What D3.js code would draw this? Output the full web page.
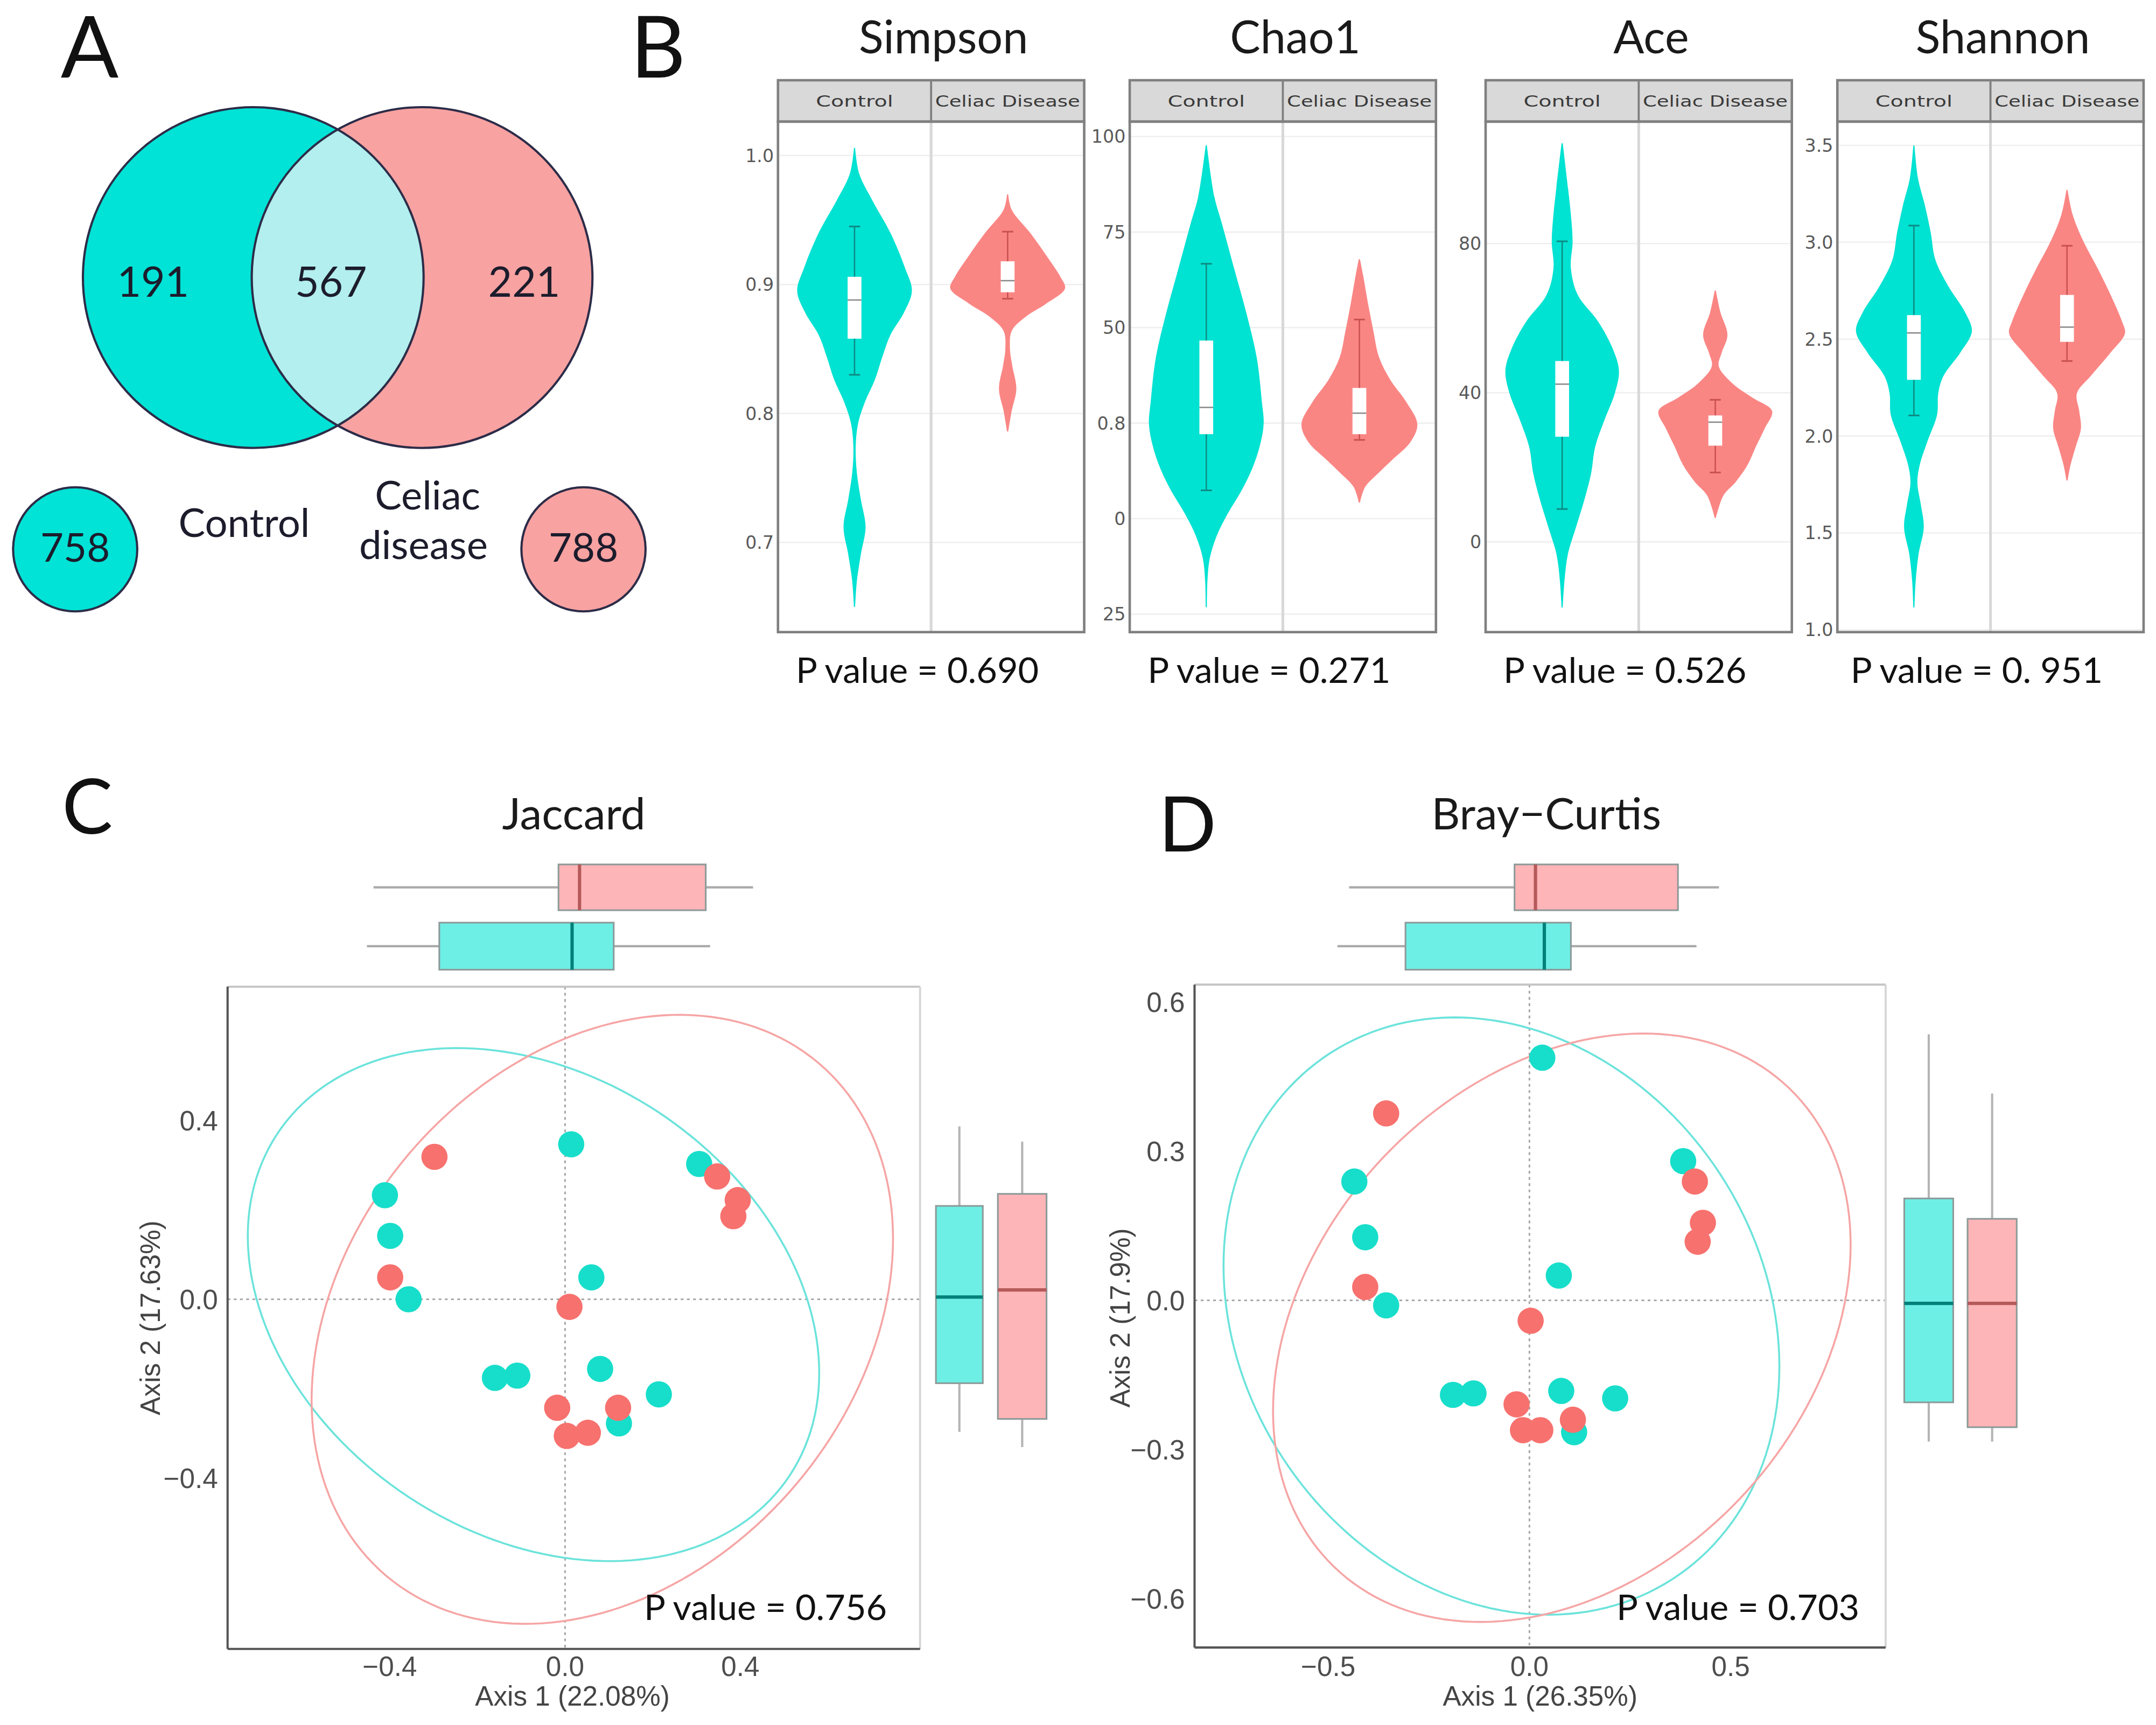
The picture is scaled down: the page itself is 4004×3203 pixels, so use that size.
<!DOCTYPE html>
<html>
<head>
<meta charset="utf-8">
<script src="https://cdn.jsdelivr.net/npm/d3@7"></script>
<style>
  body { margin: 0; background: #fff; }
  svg { display: block; }
</style>
</head>
<body>
<svg id="fig"></svg>
<script>
/* Figure: Venn (A), alpha diversity violins (B), PCoA Jaccard (C) and Bray-Curtis (D) */

// ---- A: Venn counts
const vennRegions = [191, 567, 221];          // control only, shared, celiac only
const vennTotals = [758, 788];
const groups = ['Control', 'Celiac Disease'];

// ---- B: alpha diversity
const alphaIndices = ['Simpson', 'Chao1', 'Ace', 'Shannon'];
const alphaPvalues = ['0.690', '0.271', '0.526', '0. 951'];
const alphaRanges = [[0.6305, 1.0263], [-29.7, 103.9], [-24.2, 112.7], [0.988, 3.6225]];
const alphaTicks = [[0.7, 0.8, 0.9, 1.0], [-25, 0, 25, 50, 75, 100], [0, 40, 80], [1.0, 1.5, 2.0, 2.5, 3.0, 3.5]];
const alphaTickLabels = [['0.7', '0.8', '0.9', '1.0'], ['25', '0', '0.8', '50', '75', '100'], ['0', '40', '80'], ['1.0', '1.5', '2.0', '2.5', '3.0', '3.5']];

// violin outlines: [value, relative density]
const simpsonControl = [[1.006,0.01],[0.986,0.08],[0.965,0.31],[0.940,0.62],[0.913,0.87],[0.895,0.99],[0.878,0.85],[0.861,0.62],[0.844,0.48],[0.826,0.35],[0.809,0.18],[0.792,0.06],[0.774,0.02],[0.754,0.04],[0.733,0.11],[0.712,0.19],[0.691,0.11],[0.670,0.04],[0.650,0.01]];
const simpsonCeliac = [[0.970,0.01],[0.958,0.07],[0.940,0.39],[0.923,0.66],[0.906,0.91],[0.897,0.99],[0.885,0.66],[0.875,0.31],[0.864,0.07],[0.850,0.04],[0.837,0.08],[0.819,0.15],[0.802,0.07],[0.786,0.01]];
const chao1Control = [[97.7,0.01],[84.2,0.14],[77.2,0.27],[65.5,0.48],[53.9,0.69],[42.2,0.87],[30.5,0.96],[24.7,0.99],[18.8,0.92],[13.0,0.79],[7.1,0.60],[1.3,0.37],[-4.5,0.18],[-10.4,0.06],[-16.2,0.02],[-23.2,0.01]];
const chao1Celiac = [[67.9,0.01],[63.2,0.07],[56.2,0.15],[49.2,0.24],[42.2,0.34],[36.4,0.53],[30.5,0.81],[24.7,1.0],[20.0,0.88],[15.3,0.56],[11.8,0.32],[8.3,0.10],[4.2,0.01]];
const aceControl = [[106.9,0.01],[95.0,0.10],[87.8,0.15],[80.6,0.18],[73.4,0.15],[66.2,0.27],[59.1,0.62],[51.9,0.87],[45.9,0.98],[39.9,0.91],[32.7,0.73],[25.5,0.57],[18.4,0.50],[11.1,0.38],[4.0,0.24],[-3.2,0.10],[-10.4,0.04],[-17.6,0.01]];
const aceCeliac = [[67.4,0.01],[61.5,0.09],[55.5,0.21],[50.7,0.11],[47.1,0.06],[42.3,0.31],[38.7,0.64],[35.1,0.98],[30.3,0.85],[25.5,0.70],[20.7,0.56],[16.0,0.35],[12.4,0.14],[6.4,0.01]];
const shannonControl = [[3.50,0.01],[3.33,0.07],[3.19,0.19],[3.05,0.29],[2.91,0.37],[2.77,0.60],[2.64,0.88],[2.54,1.0],[2.43,0.80],[2.31,0.51],[2.22,0.42],[2.11,0.40],[1.97,0.23],[1.85,0.10],[1.76,0.06],[1.645,0.12],[1.53,0.17],[1.39,0.08],[1.25,0.03],[1.115,0.01]];
const shannonCeliac = [[3.27,0.01],[3.14,0.10],[3.00,0.29],[2.87,0.52],[2.73,0.75],[2.59,0.95],[2.53,1.0],[2.43,0.75],[2.31,0.41],[2.22,0.17],[2.13,0.21],[2.04,0.24],[1.945,0.15],[1.85,0.06],[1.77,0.01]];
const violins = [[simpsonControl, simpsonCeliac], [chao1Control, chao1Celiac], [aceControl, aceCeliac], [shannonControl, shannonCeliac]];

// inner boxes: [lower whisker, q1, median, q3, upper whisker]
const alphaBoxes = [
  [[0.830, 0.858, 0.888, 0.906, 0.945], [0.889, 0.894, 0.903, 0.918, 0.941]],
  [[7.4, 22.1, 29.1, 46.6, 66.7], [20.6, 22.1, 27.6, 34.2, 52.1]],
  [[8.8, 28.2, 42.3, 48.5, 80.6], [18.6, 25.8, 32.1, 33.9, 38.1]],
  [[2.106, 2.29, 2.532, 2.624, 3.086], [2.387, 2.486, 2.562, 2.728, 2.982]]
];

// ---- C / D: PCoA
const jaccardControl = [[0.014,0.347],[0.306,0.303],[-0.411,0.233],[-0.399,0.142],[-0.357,0.0],[0.060,0.049],[-0.160,-0.176],[-0.109,-0.171],[0.080,-0.156],[0.214,-0.213],[0.123,-0.278]];
const jaccardCeliac = [[-0.298,0.319],[0.347,0.275],[0.394,0.222],[0.384,0.186],[-0.399,0.049],[0.010,-0.017],[-0.018,-0.243],[0.121,-0.243],[0.004,-0.306],[0.052,-0.299]];
const brayControl = [[0.032,0.488],[0.382,0.280],[-0.435,0.239],[-0.408,0.127],[-0.356,-0.010],[0.073,0.050],[-0.190,-0.190],[-0.139,-0.187],[0.079,-0.182],[0.213,-0.197],[0.111,-0.265]];
const brayCeliac = [[-0.356,0.376],[0.411,0.239],[0.431,0.156],[0.418,0.118],[-0.408,0.027],[0.003,-0.041],[-0.032,-0.209],[0.108,-0.240],[-0.016,-0.261],[0.027,-0.261]];

// ellipses: [cx, cy, var x, var y, cov xy]
const jaccardEllipses = [[-0.072, -0.012, 0.425, 0.330, -0.10], [0.085, -0.045, 0.44, 0.465, 0.12]];
const brayEllipses = [[-0.0695, -0.0315, 0.4768, 0.3606, -0.07], [0.0805, -0.055, 0.5148, 0.35, 0.12]];

// marginal boxes: [lower whisker, q1, median, q3, upper whisker] per group
const jaccardAxis1Box = [[-0.452, -0.287, 0.016, 0.111, 0.331], [-0.437, -0.015, 0.033, 0.321, 0.429]];
const jaccardAxis2Box = [[-0.297, -0.188, 0.005, 0.209, 0.387], [-0.331, -0.268, 0.021, 0.236, 0.353]];
const brayAxis1Box = [[-0.477, -0.308, 0.037, 0.103, 0.415], [-0.448, -0.037, 0.015, 0.369, 0.471]];
const brayAxis2Box = [[-0.284, -0.205, -0.006, 0.205, 0.535], [-0.284, -0.255, -0.006, 0.164, 0.416]];

const jaccardXRange = [-0.77, 0.81], jaccardYRange = [-0.783, 0.70];
const brayXRange = [-0.832, 0.885], brayYRange = [-0.698, 0.635];
const jaccardTicks = [[-0.4, 0, 0.4], [-0.4, 0, 0.4]];
const brayTicks = [[-0.5, 0, 0.5], [-0.6, -0.3, 0, 0.3, 0.6]];

// ---- colours
const vennFill = ['#00E3D6', '#F8A2A1', '#B2EFEE'];
const violinFill = ['#00E2D2', '#FA8684'];
const whiskerCol = ['#0d8c84', '#c95250'];
const pointCol = ['#17DECA', '#F7716E'];
const ellipseCol = ['#6BE3DB', '#F6A5A5'];
const boxFill = ['#6DEFE5', '#FDB5B7'];
const medianCol = ['#00807a', '#b55a5a'];

const W = 1563, H = 1250;
const svg = d3.select('#fig').attr('width', 4004).attr('height', 3203).attr('viewBox', `0 0 ${W} ${H}`);
svg.append('rect').attr('width', W).attr('height', H).attr('fill', '#fff');

const LATO = 'Lato, "Open Sans", sans-serif';
const ARIAL = '"Liberation Sans", Arial, sans-serif';
const DEJA = '"DejaVu Sans", sans-serif';

function letter(t, x, y, size) {
    svg.append('text').attr('x', x).attr('y', y).text(t)
        .style('font-family', LATO).style('font-size', size + 'px').attr('fill', '#111');
}

// ================= A =================
function drawVenn() {
    const g = svg.append('g');
    const r = 123.5, c1 = [183.6, 201], c2 = [306, 201];
    const defs = svg.append('defs');
    defs.append('clipPath').attr('id', 'clipRight').append('circle').attr('cx', c2[0]).attr('cy', c2[1]).attr('r', r);
    g.append('circle').attr('cx', c1[0]).attr('cy', c1[1]).attr('r', r).attr('fill', vennFill[0]);
    g.append('circle').attr('cx', c2[0]).attr('cy', c2[1]).attr('r', r).attr('fill', vennFill[1]);
    g.append('circle').attr('cx', c1[0]).attr('cy', c1[1]).attr('r', r).attr('fill', vennFill[2]).attr('clip-path', 'url(#clipRight)');
    [c1, c2].forEach(c => g.append('circle').attr('cx', c[0]).attr('cy', c[1]).attr('r', r)
        .attr('fill', 'none').attr('stroke', '#2c2c48').attr('stroke-width', 1.6));

    const numX = [111, 240, 380];
    vennRegions.forEach((v, i) => g.append('text').attr('x', numX[i]).attr('y', 215).attr('text-anchor', 'middle')
        .text(v).style('font-family', LATO).style('font-size', '30px').attr('fill', '#1c1c2c'));

    const small = [[54.5, 398], [423, 398]];
    vennTotals.forEach((v, i) => {
        g.append('circle').attr('cx', small[i][0]).attr('cy', small[i][1]).attr('r', 45)
            .attr('fill', vennFill[i]).attr('stroke', '#2c2c48').attr('stroke-width', 1.6);
        g.append('text').attr('x', small[i][0]).attr('y', 407).attr('text-anchor', 'middle').text(v)
            .style('font-family', LATO).style('font-size', '29px').attr('fill', '#1c1c2c');
    });
    const lab = (t, x, y) => g.append('text').attr('x', x).attr('y', y).attr('text-anchor', 'middle').text(t)
        .style('font-family', LATO).style('font-size', '29px').attr('fill', '#1c1c2c');
    lab('Control', 177, 389);
    lab('Celiac', 310, 369);
    lab('disease', 307, 405);
}

// ================= B =================
const bLeft = [564, 819, 1077, 1332], bWidth = 222;
const stripTop = 58, bTop = 88, bBottom = 458;

function drawViolinPanel(i) {
    const left = bLeft[i], half = bWidth / 2;
    const y = d3.scaleLinear().domain(alphaRanges[i]).range([bBottom, bTop]);
    const w = d3.scaleLinear().domain([0, 1]).range([0, 42]);
    const g = svg.append('g');

    g.append('text').attr('x', left + 120).attr('y', 38.5).attr('text-anchor', 'middle').text(alphaIndices[i])
        .style('font-family', LATO).style('font-size', '33px').attr('fill', '#1a1a1a');

    // strip
    g.append('rect').attr('x', left).attr('y', stripTop).attr('width', bWidth).attr('height', bTop - stripTop)
        .attr('fill', '#d9d9d9');
    groups.forEach((grp, j) => {
        g.append('text').attr('x', left + half * (j + 0.5)).attr('y', 77).attr('text-anchor', 'middle')
            .text(grp).style('font-family', DEJA).style('font-size', '11px').attr('fill', '#3a3a3a')
            .attr('lengthAdjust', 'spacingAndGlyphs').attr('textLength', j === 0 ? 56 : half - 6);
    });

    // grid + ticks
    alphaTicks[i].forEach((v, k) => {
        g.append('line').attr('x1', left).attr('x2', left + bWidth).attr('y1', y(v)).attr('y2', y(v))
            .attr('stroke', '#efefef').attr('stroke-width', 1);
        g.append('text').attr('x', left - 3).attr('y', y(v)).attr('dy', '0.36em').attr('text-anchor', 'end')
            .text(alphaTickLabels[i][k]).style('font-family', DEJA).style('font-size', '13px').attr('fill', '#5a5a5a');
    });
    g.append('line').attr('x1', left + half).attr('x2', left + half).attr('y1', bTop).attr('y2', bBottom)
        .attr('stroke', '#d8d8d8').attr('stroke-width', 2);

    groups.forEach((grp, j) => {
        const cx = left + half * (j + 0.5);
        const area = d3.area().curve(d3.curveCatmullRom.alpha(0.5))
            .y(d => y(d[0])).x0(d => cx - w(d[1])).x1(d => cx + w(d[1]));
        g.append('path').datum(violins[i][j]).attr('d', area).attr('fill', violinFill[j]);

        const [lo, q1, med, q3, hi] = alphaBoxes[i][j];
        g.append('line').attr('x1', cx).attr('x2', cx).attr('y1', y(hi)).attr('y2', y(lo))
            .attr('stroke', whiskerCol[j]).attr('stroke-width', 1);
        [lo, hi].forEach(v => g.append('line').attr('x1', cx - 4).attr('x2', cx + 4).attr('y1', y(v)).attr('y2', y(v))
            .attr('stroke', whiskerCol[j]).attr('stroke-width', 1.2));
        g.append('rect').attr('x', cx - 5).attr('width', 10).attr('y', y(q3)).attr('height', y(q1) - y(q3))
            .attr('fill', '#fff');
        g.append('line').attr('x1', cx - 5).attr('x2', cx + 5).attr('y1', y(med)).attr('y2', y(med))
            .attr('stroke', '#8a8a8a').attr('stroke-width', 1);
    });

    // frames on top
    g.append('rect').attr('x', left).attr('y', stripTop).attr('width', bWidth).attr('height', bTop - stripTop)
        .attr('fill', 'none').attr('stroke', '#808080').attr('stroke-width', 1.8);
    g.append('line').attr('x1', left + half).attr('x2', left + half).attr('y1', stripTop).attr('y2', bTop)
        .attr('stroke', '#808080').attr('stroke-width', 1.5);
    g.append('rect').attr('x', left).attr('y', bTop).attr('width', bWidth).attr('height', bBottom - bTop)
        .attr('fill', 'none').attr('stroke', '#808080').attr('stroke-width', 1.8);

    g.append('text').attr('x', left + 101).attr('y', 495).attr('text-anchor', 'middle')
        .text('P value = ' + alphaPvalues[i]).style('font-family', LATO).style('font-size', '26px').attr('fill', '#111');
}

// ================= C / D =================
function drawPCoA(o) {
    const g = svg.append('g');
    const x = d3.scaleLinear().domain(o.xRange).range([o.x0, o.x1]);
    const y = d3.scaleLinear().domain(o.yRange).range([o.y1, o.y0]);
    const fmt = d3.format('.1f');

    letter(o.letter, o.letterX, o.letterY, 55);
    g.append('text').attr('x', o.titleX).attr('y', 601).attr('text-anchor', 'middle').text(o.title)
        .style('font-family', LATO).style('font-size', '32px').attr('fill', '#1a1a1a');

    // dotted zero lines
    g.append('line').attr('x1', x(0)).attr('x2', x(0)).attr('y1', o.y0).attr('y2', o.y1)
        .attr('stroke', '#a8a8a8').attr('stroke-width', 1.2).attr('stroke-dasharray', '2,2.5');
    g.append('line').attr('x1', o.x0).attr('x2', o.x1).attr('y1', y(0)).attr('y2', y(0))
        .attr('stroke', '#a8a8a8').attr('stroke-width', 1.2).attr('stroke-dasharray', '2,2.5');

    // ellipses
    const ts = d3.range(0, 2 * Math.PI + 0.001, Math.PI / 90);
    o.ellipses.forEach((e, j) => {
        const [cx, cy, sxx, syy, sxy] = e;
        const l11 = Math.sqrt(sxx), l21 = sxy / l11, l22 = Math.sqrt(syy - l21 * l21);
        const pts = ts.map(t => [cx + l11 * Math.cos(t), cy + l21 * Math.cos(t) + l22 * Math.sin(t)]);
        g.append('path').datum(pts).attr('d', d3.line().x(d => x(d[0])).y(d => y(d[1])))
            .attr('fill', 'none').attr('stroke', ellipseCol[j]).attr('stroke-width', 1.4);
    });

    // points
    o.points.forEach((pts, j) => {
        g.selectAll(null).data(pts).enter().append('circle')
            .attr('cx', d => x(d[0])).attr('cy', d => y(d[1])).attr('r', 9.5).attr('fill', pointCol[j]);
    });

    // frame
    g.append('line').attr('x1', o.x0).attr('x2', o.x1).attr('y1', o.y0).attr('y2', o.y0).attr('stroke', '#c4c4c4').attr('stroke-width', 1.5);
    g.append('line').attr('x1', o.x1).attr('x2', o.x1).attr('y1', o.y0).attr('y2', o.y1).attr('stroke', '#d6d6d6').attr('stroke-width', 1.5);
    g.append('line').attr('x1', o.x0).attr('x2', o.x0).attr('y1', o.y0).attr('y2', o.y1).attr('stroke', '#555').attr('stroke-width', 1.6);
    g.append('line').attr('x1', o.x0).attr('x2', o.x1).attr('y1', o.y1).attr('y2', o.y1).attr('stroke', '#555').attr('stroke-width', 1.6);

    // ticks
    o.ticks[0].forEach(v => g.append('text').attr('x', x(v)).attr('y', 1214.5).attr('text-anchor', 'middle')
        .text(fmt(v)).style('font-family', ARIAL).style('font-size', '20px').attr('fill', '#4d4d4d'));
    o.ticks[1].forEach(v => g.append('text').attr('x', o.x0 - 7).attr('y', y(v)).attr('dy', '0.36em').attr('text-anchor', 'end')
        .text(fmt(v)).style('font-family', ARIAL).style('font-size', '20px').attr('fill', '#4d4d4d'));

    g.append('text').attr('x', o.xTitleX).attr('y', 1236).attr('text-anchor', 'middle').text(o.xTitle)
        .style('font-family', ARIAL).style('font-size', '20px').attr('fill', '#444');
    g.append('text').attr('transform', `translate(${o.yTitleX},955) rotate(-90)`).attr('text-anchor', 'middle').text(o.yTitle)
        .style('font-family', ARIAL).style('font-size', '20px').attr('fill', '#444');

    g.append('text').attr('x', o.pX).attr('y', 1174).attr('text-anchor', 'end').text(o.pText)
        .style('font-family', LATO).style('font-size', '26px').attr('fill', '#111');

    // top marginal boxes (axis 1)
    const topBands = [[668.6, 702.7], [626.4, 659.6]];
    o.box1.forEach((b, j) => {
        const [lo, q1, med, q3, hi] = b, [b0, b1] = topBands[j], m = (b0 + b1) / 2;
        g.append('line').attr('x1', x(lo)).attr('x2', x(hi)).attr('y1', m).attr('y2', m).attr('stroke', '#aaa').attr('stroke-width', 1.6);
        g.append('rect').attr('x', x(q1)).attr('width', x(q3) - x(q1)).attr('y', b0).attr('height', b1 - b0)
            .attr('fill', boxFill[j]).attr('stroke', '#8c9a99').attr('stroke-width', 1.2);
        g.append('line').attr('x1', x(med)).attr('x2', x(med)).attr('y1', b0).attr('y2', b1).attr('stroke', medianCol[j]).attr('stroke-width', 2.4);
    });
    // right marginal boxes (axis 2)
    o.box2.forEach((b, j) => {
        const [lo, q1, med, q3, hi] = b, [a0, a1] = o.rightBands[j], m = (a0 + a1) / 2;
        g.append('line').attr('x1', m).attr('x2', m).attr('y1', y(lo)).attr('y2', y(hi)).attr('stroke', '#b4b4b4').attr('stroke-width', 1.6);
        g.append('rect').attr('x', a0).attr('width', a1 - a0).attr('y', y(q3)).attr('height', y(q1) - y(q3))
            .attr('fill', boxFill[j]).attr('stroke', '#8c9a99').attr('stroke-width', 1.2);
        g.append('line').attr('x1', a0).attr('x2', a1).attr('y1', y(med)).attr('y2', y(med)).attr('stroke', medianCol[j]).attr('stroke-width', 2.4);
    });
}

drawVenn();
letter('A', 44, 56, 62);
letter('B', 457, 56, 62);
alphaIndices.forEach((_, i) => drawViolinPanel(i));

drawPCoA({
    letter: 'C', letterX: 45, letterY: 604, title: 'Jaccard', titleX: 416,
    x0: 165, x1: 667, y0: 715, y1: 1195, xRange: jaccardXRange, yRange: jaccardYRange, ticks: jaccardTicks,
    ellipses: jaccardEllipses, points: [jaccardControl, jaccardCeliac],
    box1: jaccardAxis1Box, box2: jaccardAxis2Box, rightBands: [[678.5, 712.5], [723.4, 758.7]],
    xTitle: 'Axis 1 (22.08%)', xTitleX: 415, yTitle: 'Axis 2 (17.63%)', yTitleX: 116,
    pText: 'P value = 0.756', pX: 643
});
drawPCoA({
    letter: 'D', letterX: 840, letterY: 617, title: 'Bray\u2212Curtis', titleX: 1121,
    x0: 866, x1: 1367, y0: 713.5, y1: 1194, xRange: brayXRange, yRange: brayYRange, ticks: brayTicks,
    ellipses: brayEllipses, points: [brayControl, brayCeliac],
    box1: brayAxis1Box, box2: brayAxis2Box, rightBands: [[1380.5, 1416], [1426.4, 1462]],
    xTitle: 'Axis 1 (26.35%)', xTitleX: 1116.5, yTitle: 'Axis 2 (17.9%)', yTitleX: 819,
    pText: 'P value = 0.703', pX: 1348
});
</script>
</body>
</html>
